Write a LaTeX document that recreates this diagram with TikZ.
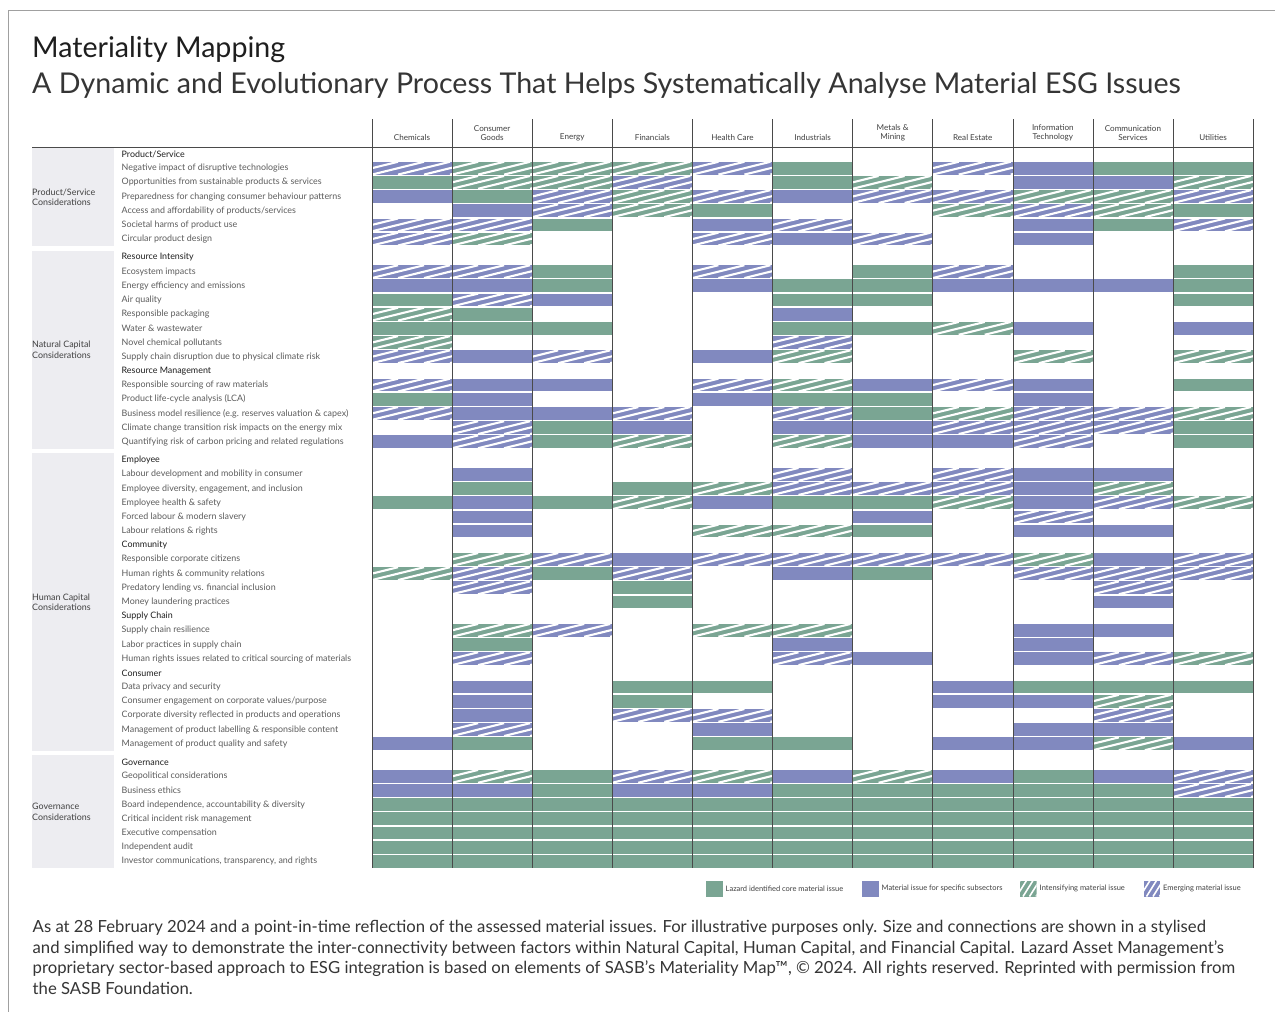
\documentclass[tikz,border=0pt]{standalone}
\usepackage{fontspec}
\setmainfont{Lato}
\definecolor{core}{HTML}{7AA593}
\definecolor{sub}{HTML}{8189BF}
\definecolor{panel}{HTML}{EDEDF1}
\definecolor{ink}{HTML}{1E1E1E}
\definecolor{soft}{HTML}{5C5C5C}
\definecolor{rulecol}{HTML}{4A4A4A}
\definecolor{framecol}{HTML}{A0A0A0}

% white diagonal stripes over a coloured bar of width #2, centred vertically
\newcommand\hatchbar[2]{%
  \begin{scope}
    \clip (0,-6.4) rectangle (#2,6.4);
    \fill[#1] (0,-6.4) rectangle (#2,6.4);
    \foreach \s in {-52,-26,...,104}
      \draw[white,line width=2.1pt] (\s,6.4) -- ++(52,-12.8);
  \end{scope}}

\tikzset{
  pics/cellG/.style={code={\fill[core] (0,-6.4) rectangle (80.1,6.4);}},
  pics/cellB/.style={code={\fill[sub] (0,-6.4) rectangle (80.1,6.4);}},
  pics/cellg/.style={code={\hatchbar{core}{80.1}}},
  pics/cellb/.style={code={\hatchbar{sub}{80.1}}},
  pics/cello/.style={code={}},
  itemtext/.style={anchor=west,inner sep=0pt,text=soft,font=\fontsize{8.9}{10.5}\selectfont},
  headtext/.style={anchor=west,inner sep=0pt,text=ink,font=\fontsize{8.9}{10.5}\selectfont},
  secttext/.style={anchor=west,inner sep=0pt,align=left,text=ink!85,font=\fontsize{8.9}{10.2}\selectfont},
  colhead/.style={anchor=south,inner sep=0pt,align=center,text=ink!85,font=\fontsize{8.1}{9}\selectfont},
  gridline/.style={draw=rulecol,line width=0.6pt},
  legtext/.style={anchor=west,inner sep=0pt,text=ink!85,font=\fontsize{7.5}{8.5}\selectfont},
  foottext/.style={anchor=base west,inner sep=0pt,text=ink!90,font=\fontsize{16.7}{19}\selectfont},
}

% one issue row: index, section, label, eleven cell codes
\newcommand\issue[4]{%
  \pgfmathsetmacro\yy{154+14.18*#1+4.2*#2}
  \node[itemtext] (row#1) at (121.5,\yy) {#3};
  \foreach \c [count=\i from 0] in {#4} {%
    \edef\cellcmd{\noexpand\pic at ({372+80.1*\i},\yy) {cell\c};}\cellcmd}}
% a sub-heading row
\newcommand\subhead[3]{%
  \pgfmathsetmacro\yy{154+14.18*#1+4.2*#2}
  \node[headtext] (row#1) at (121.5,\yy) {#3};}

\begin{document}
\begin{tikzpicture}[x=1pt,y=-1pt]
\useasboundingbox (0,0) rectangle (1275,1012);
\fill[white] (0,0) rectangle (1275,1012);

% frame
\draw[framecol,line width=0.8pt] (8,1012) -- (8,10) -- (1275,10);

% titles
\node[anchor=base west,inner sep=0pt,text=ink,font=\fontsize{28.6}{33}\selectfont] (title) at (32,57) {Materiality Mapping};
\node[anchor=base west,inner sep=0pt,text=ink!90,font=\fontsize{28.6}{33}\selectfont] (subtitle) at (32,93) {A Dynamic and Evolutionary Process That Helps Systematically Analyse Material ESG Issues};

% section panels
\fill[panel] (32,148) rectangle (114,246.1);
\fill[panel] (32,250.5) rectangle (114,448.8);
\fill[panel] (32,453.2) rectangle (114,750.8);
\fill[panel] (32,755.2) rectangle (114,868.4);
\node[secttext] (sec1) at (32,197) {Product/Service\\Considerations};
\node[secttext] (sec2) at (32,349.7) {Natural Capital\\Considerations};
\node[secttext] (sec3) at (32,602) {Human Capital\\Considerations};
\node[secttext] (sec4) at (32,811.8) {Governance\\Considerations};

% column headings
\foreach \name [count=\i from 0] in {Chemicals,{Consumer\\Goods},Energy,Financials,Health Care,Industrials,{Metals \&\\Mining},Real Estate,{Information\\Technology},{Communication\\Services},Utilities}
  \node[colhead] (col\i) at ({412.05+80.1*\i},141) {\name};

% Product/Service
\subhead{0}{0}{Product/Service}
\issue{1}{0}{Negative impact of disruptive technologies}{b,g,g,g,b,G,o,b,B,G,G}
\issue{2}{0}{Opportunities from sustainable products \& services}{G,g,g,b,o,G,g,o,B,B,g}
\issue{3}{0}{Preparedness for changing consumer behaviour patterns}{B,G,b,g,b,B,b,b,g,g,b}
\issue{4}{0}{Access and affordability of products/services}{o,B,b,g,G,o,o,g,b,g,G}
\issue{5}{0}{Societal harms of product use}{b,b,G,o,B,b,o,o,B,G,b}
\issue{6}{0}{Circular product design}{b,g,o,o,b,B,b,o,B,o,o}

% Natural capital
\subhead{7}{1}{Resource Intensity}
\issue{8}{1}{Ecosystem impacts}{b,b,G,o,b,o,G,b,o,o,G}
\issue{9}{1}{Energy efficiency and emissions}{B,B,G,o,B,G,G,B,B,B,G}
\issue{10}{1}{Air quality}{G,b,B,o,o,G,G,o,o,o,G}
\issue{11}{1}{Responsible packaging}{g,G,o,o,o,B,o,o,o,o,o}
\issue{12}{1}{Water \& wastewater}{G,G,G,o,o,G,G,g,B,o,B}
\issue{13}{1}{Novel chemical pollutants}{g,o,o,o,o,b,o,o,o,o,o}
\issue{14}{1}{Supply chain disruption due to physical climate risk}{b,B,b,o,B,g,o,o,g,o,g}
\subhead{15}{1}{Resource Management}
\issue{16}{1}{Responsible sourcing of raw materials}{b,B,B,o,b,g,B,b,B,o,G}
\issue{17}{1}{Product life-cycle analysis (LCA)}{G,B,o,o,B,G,G,o,B,o,o}
\issue{18}{1}{Business model resilience (e.g. reserves valuation \& capex)}{b,B,B,b,o,b,G,g,b,b,g}
\issue{19}{1}{Climate change transition risk impacts on the energy mix}{o,b,G,B,o,B,B,b,b,b,G}
\issue{20}{1}{Quantifying risk of carbon pricing and related regulations}{B,b,G,g,o,g,B,B,b,o,G}

% Human capital
\subhead{21}{2}{Employee}
\issue{22}{2}{Labour development and mobility in consumer}{o,B,o,o,o,b,o,b,B,B,o}
\issue{23}{2}{Employee diversity, engagement, and inclusion}{o,G,o,G,g,b,b,b,B,g,o}
\issue{24}{2}{Employee health \& safety}{G,B,G,g,B,G,G,g,B,b,g}
\issue{25}{2}{Forced labour \& modern slavery}{o,B,o,o,o,o,B,o,b,o,o}
\issue{26}{2}{Labour relations \& rights}{o,B,o,o,g,g,G,o,B,B,o}
\subhead{27}{2}{Community}
\issue{28}{2}{Responsible corporate citizens}{o,g,b,B,b,b,b,b,g,B,b}
\issue{29}{2}{Human rights \& community relations}{g,b,G,b,o,B,G,o,b,b,b}
\issue{30}{2}{Predatory lending vs. financial inclusion}{o,b,o,G,o,o,o,o,o,b,o}
\issue{31}{2}{Money laundering practices}{o,o,o,G,o,o,o,o,o,B,o}
\subhead{32}{2}{Supply Chain}
\issue{33}{2}{Supply chain resilience}{o,g,b,o,g,g,o,o,B,B,o}
\issue{34}{2}{Labor practices in supply chain}{o,G,o,o,o,B,o,o,B,o,o}
\issue{35}{2}{Human rights issues related to critical sourcing of materials}{o,b,o,o,o,b,B,o,B,b,g}
\subhead{36}{2}{Consumer}
\issue{37}{2}{Data privacy and security}{o,B,o,G,G,o,o,B,G,G,G}
\issue{38}{2}{Consumer engagement on corporate values/purpose}{o,B,o,G,o,o,o,B,B,g,o}
\issue{39}{2}{Corporate diversity reflected in products and operations}{o,B,o,b,b,o,o,o,o,b,o}
\issue{40}{2}{Management of product labelling \& responsible content}{o,b,o,o,B,o,o,o,B,B,o}
\issue{41}{2}{Management of product quality and safety}{B,G,o,o,G,G,o,B,B,g,B}

% Governance
\subhead{42}{3}{Governance}
\issue{43}{3}{Geopolitical considerations}{B,g,G,b,g,B,g,B,G,B,b}
\issue{44}{3}{Business ethics}{B,B,G,B,B,G,G,G,G,G,b}
\issue{45}{3}{Board independence, accountability \& diversity}{G,G,G,G,G,G,G,G,G,G,G}
\issue{46}{3}{Critical incident risk management}{G,G,G,G,G,G,G,G,G,G,G}
\issue{47}{3}{Executive compensation}{G,G,G,G,G,G,G,G,G,G,G}
\issue{48}{3}{Independent audit}{G,G,G,G,G,G,G,G,G,G,G}
\issue{49}{3}{Investor communications, transparency, and rights}{G,G,G,G,G,G,G,G,G,G,G}

% grid rules
\draw[rulecol,line width=0.9pt] (32,147) -- (1253.1,147);
\foreach \i in {0,...,11}
  \draw[gridline] ({372+80.1*\i},119) -- ({372+80.1*\i},868);

% legend
\fill[core] (706,880.5) rectangle (722.5,896.5);
\node[legtext] (leg1) at (725.5,888.5) {Lazard identified core material issue};
\fill[sub] (862,880.5) rectangle (878.5,896.5);
\node[legtext] (leg2) at (881.5,888.5) {Material issue for specific subsectors};
\foreach \x/\col [count=\j] in {1020/core,1143.5/sub} {
  \begin{scope}
    \clip (\x,880.5) rectangle ++(16.5,16);
    \fill[\col] (\x,880.5) rectangle ++(16.5,16);
    \foreach \s in {-10,-3.5,...,20}
      \draw[white,line width=1.6pt] (\x+\s,896.5) -- ++(10,-16);
  \end{scope}}
\node[legtext] (leg3) at (1039.5,888.5) {Intensifying material issue};
\node[legtext] (leg4) at (1163,888.5) {Emerging material issue};

% footnote
\node[foottext] (foot1) at (32.5,932.5) {As at 28 February 2024 and a point-in-time reflection of the assessed material issues. For illustrative purposes only. Size and connections are shown in a stylised};
\node[foottext] (foot2) at (32.5,953) {and simplified way to demonstrate the inter-connectivity between factors within Natural Capital, Human Capital, and Financial Capital. Lazard Asset Management’s};
\node[foottext] (foot3) at (32.5,973.5) {proprietary sector-based approach to ESG integration is based on elements of SASB’s Materiality Map™, © 2024. All rights reserved. Reprinted with permission from};
\node[foottext] (foot4) at (32.5,994) {the SASB Foundation.};
\end{tikzpicture}
\end{document}
